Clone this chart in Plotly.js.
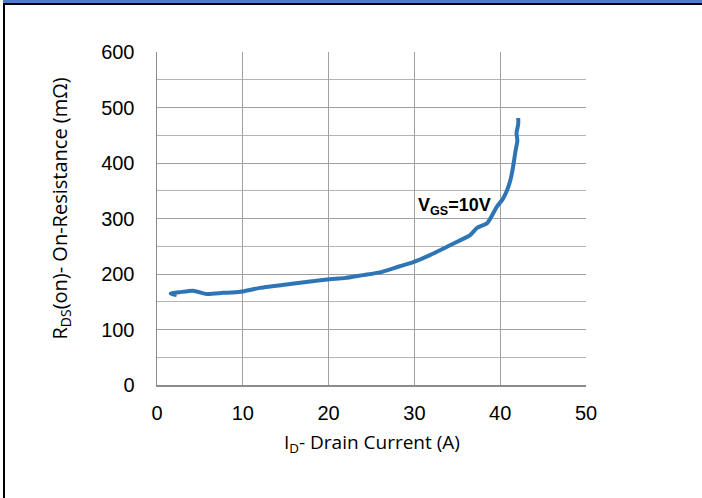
<!DOCTYPE html>
<html>
<head>
<meta charset="utf-8">
<script src="https://cdn.plot.ly/plotly-3.0.1.min.js"></script>
<style>
  html, body { margin: 0; padding: 0; background: #fff; }
  #wrap { position: relative; width: 702px; height: 498px; overflow: hidden; }
  #chart { width: 702px; height: 498px; }
  .frame { position: absolute; }
</style>
</head>
<body>
<div id="wrap">
  <div id="chart"></div>
  <div class="frame" style="left:3px; top:0px; width:699px; height:3px; background:#4a7fcb;"></div>
  <div class="frame" style="left:3px; top:3px; width:699px; height:2px; background:#000;"></div>
  <div class="frame" style="left:3px; top:3px; width:2px; height:495px; background:#000;"></div>
</div>
<script>
// Drain current (A)
const drainCurrent = [2.3, 1.6, 2.6, 4.2, 5.8, 7.7, 9.7, 12.0, 15.5, 19.8, 22.0, 24.0, 26.0, 28.3, 29.8, 31.8, 33.8, 35.5, 36.5, 37.3, 38.5, 39.6, 40.3, 40.8, 41.2, 41.5, 41.8, 42.0, 41.9, 42.1, 42.1];
// On-resistance (mΩ)
const onResistance = [162, 165, 167, 170, 164, 166, 168, 175, 182, 190, 193, 198, 203, 214, 221, 234, 249, 262, 270, 283, 292, 321, 335, 351, 370, 393, 423, 440, 454, 470, 481];

const xTicks = [0, 10, 20, 30, 40, 50];
const yTicks = [0, 100, 200, 300, 400, 500, 600];
const curveLabel = 'V<sub>GS</sub>=10V';
const xTitle = 'I<sub>D</sub>- Drain Current (A)';
const yTitle = 'R<sub>DS</sub>(on)- On-Resistance (mΩ)';

const trace = {
  x: drainCurrent,
  y: onResistance,
  type: 'scatter',
  mode: 'lines',
  line: { color: '#2e75b6', width: 4, shape: 'spline', smoothing: 0.6 },
  hoverinfo: 'skip'
};

const tickFont = { family: 'Liberation Sans, Arial, sans-serif', size: 20, color: '#000' };

const layout = {
  width: 702,
  height: 498,
  margin: { l: 157, r: 116, t: 52, b: 113 },
  paper_bgcolor: 'rgba(0,0,0,0)',
  plot_bgcolor: '#fff',
  showlegend: false,
  xaxis: {
    range: [0, 50],
    tickvals: xTicks,
    ticktext: xTicks.map(String),
    showgrid: true,
    gridcolor: '#a0a0a0',
    gridwidth: 1,
    showline: true,
    linecolor: '#8c8c8c',
    linewidth: 1.5,
    mirror: false,
    zeroline: false,
    ticks: '',
    tickfont: tickFont,
    ticklabelstandoff: 9,
    fixedrange: true
  },
  yaxis: {
    range: [0, 600],
    tickvals: yTicks,
    ticktext: yTicks.map(String),
    showgrid: true,
    gridcolor: '#a0a0a0',
    gridwidth: 1,
    minor: { dtick: 50, showgrid: true, gridcolor: '#b4b4b4', gridwidth: 1 },
    showline: true,
    linecolor: '#8c8c8c',
    linewidth: 1.5,
    zeroline: false,
    ticks: '',
    tickfont: tickFont,
    ticklabelstandoff: 17,
    fixedrange: true
  },
  annotations: [
    {
      x: 34.7, y: 321, xref: 'x', yref: 'y',
      text: '<b>' + curveLabel + '</b>',
      showarrow: false,
      font: { family: 'Liberation Sans, Arial, sans-serif', size: 18, color: '#000' },
      xanchor: 'center', yanchor: 'middle'
    },
    {
      x: 0.5, y: -0.175, xref: 'paper', yref: 'paper',
      text: xTitle,
      showarrow: false,
      font: { family: 'Open Sans, sans-serif', size: 19, color: '#000' },
      xanchor: 'center', yanchor: 'middle'
    },
    {
      x: -0.226, y: 0.53, xref: 'paper', yref: 'paper',
      text: yTitle,
      textangle: -90,
      showarrow: false,
      font: { family: 'Open Sans, sans-serif', size: 20, color: '#000' },
      xanchor: 'center', yanchor: 'middle'
    }
  ]
};

Plotly.newPlot('chart', [trace], layout, { staticPlot: true, displayModeBar: false });
</script>
</body>
</html>
